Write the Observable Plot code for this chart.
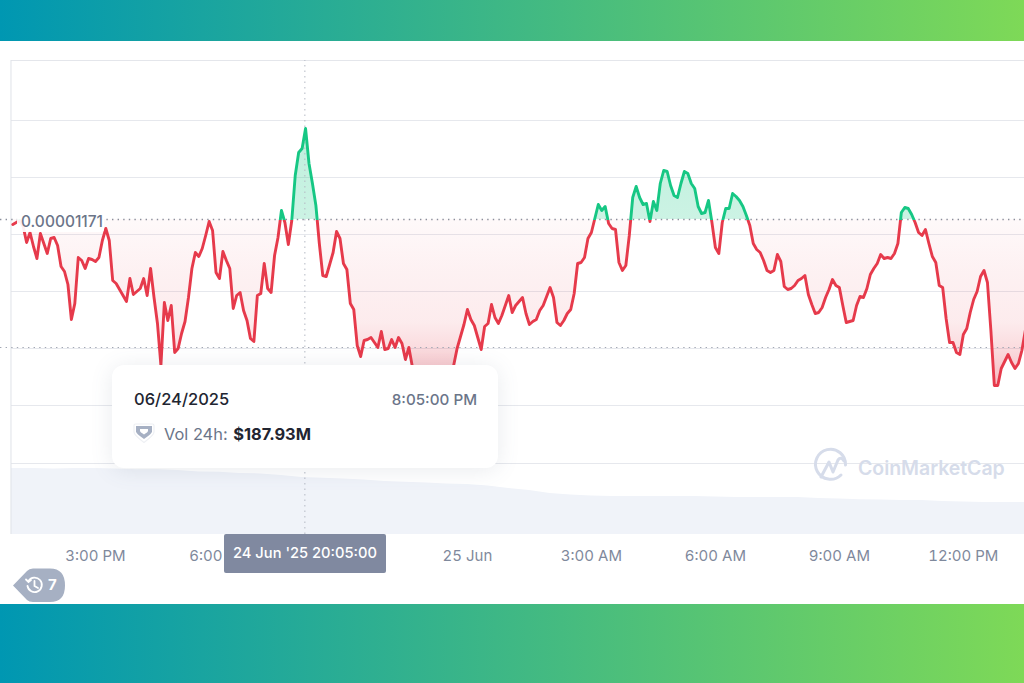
<!DOCTYPE html>
<html><head><meta charset="utf-8">
<script src="https://cdn.jsdelivr.net/npm/d3@7"></script>
<script src="https://cdn.jsdelivr.net/npm/@observablehq/plot@0.6"></script>
<style>
html,body{margin:0;padding:0;background:#fff;overflow:hidden;font-family:Inter,"Noto Sans",sans-serif}
#page{position:relative;width:1024px;height:683px;overflow:hidden;background:#fff}
.band{position:absolute;left:0;width:1024px;background:linear-gradient(90deg,#0097b2,#7ed957)}
#page>svg,#charts svg{position:absolute;left:0;top:0}
.abs{position:absolute}
#valueLabel{left:17px;top:210px;width:87px;height:22px;background:rgba(255,255,255,.92);color:#6b7589;font-size:15.5px;font-weight:500;line-height:23px;padding-left:4px;box-sizing:border-box;border-radius:3px;white-space:nowrap}
#tooltip{left:112px;top:365px;width:386px;height:103px;background:#fff;border-radius:12px;box-shadow:0 2px 22px rgba(88,102,126,.13)}
#tooltip div{position:absolute;white-space:nowrap}
#timeBox{left:224px;top:534px;width:162px;height:39px;background:#8089a0;border-radius:2px;color:#fff;font-size:14.7px;font-weight:500;line-height:39px;text-align:center;white-space:nowrap}
#wm{left:858px;top:456px;font-size:19.5px;font-weight:600;color:#d6dcea;letter-spacing:-.05px;white-space:nowrap;line-height:24px}
#badgeText{left:48px;top:575px;color:#fff;font-size:15px;font-weight:700;line-height:20px}
</style></head><body>
<div id="page">
<div class="band" style="top:0;height:41px"></div>
<div class="band" style="top:604px;height:79px"></div>
<div id="charts"></div>
<div class="abs" id="valueLabel">0.00001171</div>
<div class="abs" id="tooltip">
  <div style="left:22px;top:24px;font-size:16.5px;font-weight:500;color:#222531">06/24/2025</div>
  <div style="right:21px;top:25px;font-size:15.2px;font-weight:500;color:#6b7589">8:05:00 PM</div>
  <svg style="position:absolute;left:21px;top:58px" width="22" height="21" viewBox="0 0 22 21"><path d="M1 2.5Q1 1 2.5 1H19.5Q21 1 21 2.5V9Q21 12 11 19.5Q1 12 1 9Z" fill="#fff" stroke="#eef0f4" stroke-width="1.2"/><path d="M3 3H19V8.5Q19 10.5 11 16Q3 10.5 3 8.5Z" fill="#a6b0c3"/><path d="M7 6H15V8Q15 9 11 11.5Q7 9 7 8Z" fill="#fff"/></svg>
  <div style="left:52px;top:59px;font-size:16.4px;color:#6b7589">Vol 24h: <b style="color:#222531;font-weight:700;margin-left:1px">$187.93M</b></div>
</div>
<div class="abs" id="timeBox">24 Jun '25 20:05:00</div>
<svg width="1024" height="683" style="pointer-events:none">
  <path d="M13 585.5L27 571Q29 568.5 33 568.5H50Q65 568.5 65 585.5Q65 602 50 602H33Q29 602 27 600Z" fill="#a6b0c3"/>
  <g fill="none" stroke="#fff" stroke-width="1.8" stroke-linecap="round"><path d="M28.5 581A7.2 7.2 0 1 1 27.5 586"/><path d="M26 579.5L28.5 582L31 580"/><path d="M34.5 581V586L38 588"/></g>
  <g fill="none" stroke="#d6dcea" stroke-width="3" stroke-linecap="round" stroke-linejoin="round"><path d="M841 475A15 15 0 1 1 845.5 465"/><path d="M821 477L829 462L833 472L838 460Q841 456 844 461"/></g>
</svg>
<div class="abs" id="wm">CoinMarketCap</div>
<div class="abs" id="badgeText">7</div>
</div>
<script>
// Price in units of 0.00000001, one sample every 5 minutes from 24 Jun 2025 13:00
const priceValues = [
1166,1168,1170,1164,1148,1158,1144,1132,1157,1147,
1137,1152,1153,1145,1124,1119,1106,1071,1087,1133,
1130,1122,1132,1131,1129,1133,1150,1162,1150,1110,
1107,1101,1095,1089,1112,1096,1099,1102,1112,1095,
1122,1093,1067,1025,1088,1070,1085,1038,1042,1057,
1069,1093,1122,1138,1134,1142,1155,1169,1160,1118,
1112,1139,1130,1122,1082,1095,1098,1080,1070,1052,
1049,1095,1097,1127,1102,1098,1135,1153,1180,1168,
1146,1170,1215,1238,1242,1262,1227,1207,1185,1147,
1115,1114,1126,1138,1159,1152,1127,1121,1087,1081,
1045,1034,1050,1051,1053,1048,1043,1059,1041,1042,
1051,1043,1053,1047,1031,1043,1024,1018,1012,1006,
1010,1004,1009,1014,1008,1012,1018,1016,1025,1042,
1054,1066,1081,1071,1065,1053,1041,1064,1067,1086,
1073,1067,1075,1085,1095,1078,1085,1089,1093,1077,
1066,1069,1071,1080,1085,1094,1103,1093,1068,1065,
1070,1077,1081,1097,1127,1128,1133,1152,1158,1172,
1186,1180,1184,1167,1162,1161,1128,1120,1125,1155,
1193,1204,1193,1186,1187,1169,1189,1180,1207,1220,
1219,1205,1195,1193,1207,1219,1217,1207,1202,1184,
1177,1178,1190,1168,1143,1137,1168,1182,1182,1197,
1194,1190,1184,1175,1165,1147,1141,1138,1130,1120,
1118,1120,1136,1129,1104,1101,1102,1105,1110,1112,
1115,1096,1086,1077,1078,1083,1093,1101,1111,1105,
1103,1085,1068,1069,1070,1085,1094,1093,1102,1116,
1122,1127,1136,1132,1133,1132,1137,1147,1178,1183,
1182,1176,1168,1158,1155,1161,1147,1134,1128,1105,
1103,1072,1048,1048,1038,1036,1056,1062,1078,1091,
1099,1114,1120,1108,1060,1005,1005,1022,1029,1036,
1028,1022,1027,1040,1060];
// 24h volume in $M, one sample every 30 minutes from 24 Jun 2025 12:30
const volumeValues = [218,218,218,216,218,218,216,214,214,211,206,205,201,200,195,188,186,183,180,175,172,170,167,165,160,152,145,135,130,127,125,125,125,125,125,124,122,122,122,122,119,117,115,114,112,112,109,107,106,106,106];
const gridValues = [1270,1213,1156,1099,1042,985,927];
const topBorder = 1330;
const referencePrice = 1171;
const lowDotted = 1043;
const tickHours = [15,18,24,27,30,33,36];
const tickLabels = ["3:00 PM","6:00 PM","25 Jun","3:00 AM","6:00 AM","9:00 AM","12:00 PM"];
const hoverTime = new Date(Date.UTC(2025,5,24,20,4));

const MIN = 60000;
const t0 = Date.UTC(2025,5,24,13,0);
const price = priceValues.map((v,i)=>({t:new Date(t0+i*5*MIN),v}));
const volume = volumeValues.map((v,i)=>({t:new Date(t0+(i-1)*30*MIN),v}));
const tickDates = tickHours.map(h=>new Date(Date.UTC(2025,5,24,h)));
const xDomain = [new Date(t0-17.9*MIN), new Date(t0-17.9*MIN+1486.7*MIN)];
const red="#e63a4b", green="#16c784";

const volPlot = Plot.plot({
  width:1024,height:683,marginLeft:11,marginRight:0,marginTop:0,marginBottom:149,
  style:{background:"transparent"},
  x:{type:"utc",domain:xDomain,range:[0,1024],axis:null},
  y:{domain:[0,1762],range:[534,0],axis:null},
  marks:[
    Plot.areaY(volume,{x:"t",y:"v",fill:"#f0f3f9",clip:true})
  ]
});

function gradients(index,{y},values,dims){
  const g=d3.create("svg:defs");
  const base=y(referencePrice), top=y(1262), bot=y(1003);
  const lg=g.append("linearGradient").attr("id","lineGrad").attr("gradientUnits","userSpaceOnUse")
    .attr("x1",0).attr("x2",0).attr("y1",top).attr("y2",bot);
  const f=(base-top)/(bot-top);
  lg.append("stop").attr("offset",0).attr("stop-color",green);
  lg.append("stop").attr("offset",f).attr("stop-color",green);
  lg.append("stop").attr("offset",f).attr("stop-color",red);
  lg.append("stop").attr("offset",1).attr("stop-color",red);
  const ag=g.append("linearGradient").attr("id","areaGrad").attr("gradientUnits","userSpaceOnUse")
    .attr("x1",0).attr("x2",0).attr("y1",top).attr("y2",bot);
  [[0,green,.28],[f,green,.22],[f,red,.03],[.55,red,.07],[.75,red,.1],[.85,red,.18],[.93,red,.28],[1,red,.33]].forEach(([o,c,a])=>
    ag.append("stop").attr("offset",o).attr("stop-color",c).attr("stop-opacity",a));
  return g.node();
}

const mainPlot = Plot.plot({
  width:1024,height:683,marginLeft:0,marginRight:0,marginTop:0,marginBottom:149,
  style:{background:"transparent",fontFamily:"Inter,sans-serif"},
  x:{type:"utc",domain:xDomain,range:[0,1024]},
  y:{domain:[856,1390],range:[534,0],axis:null},
  marks:[
    gradients,
    Plot.ruleY(gridValues,{stroke:"#e6e8ed",strokeWidth:1,insetLeft:11}),
    Plot.ruleY([topBorder],{stroke:"#e4e6eb",strokeWidth:1,insetLeft:11}),
    Plot.ruleX([new Date(t0-17.9*MIN+15.2*MIN)],{y1:856,y2:topBorder,stroke:"#dfe2e8",strokeWidth:1}),
    Plot.areaY(price,{x:"t",y1:()=>referencePrice,y2:"v",fill:"url(#areaGrad)"}),
    Plot.ruleX([hoverTime],{y1:856,y2:topBorder,stroke:"#b4b9c4",strokeWidth:1,strokeDasharray:"1.5 4"}),
    Plot.ruleY([referencePrice],{stroke:"#8a8f9c",strokeWidth:1.4,strokeDasharray:"1.4 4.2"}),
    Plot.ruleY([lowDotted],{stroke:"#a2a7b3",strokeWidth:1.2,strokeDasharray:"1.4 4.2"}),
    Plot.lineY(price,{x:"t",y:"v",stroke:"url(#lineGrad)",strokeWidth:2.9,strokeLinejoin:"round",strokeLinecap:"round"}),
    Plot.axisX({ticks:tickDates,tickFormat:d=>tickLabels[tickDates.findIndex(e=>+e===+d)],tickSize:0,tickPadding:16,anchor:"bottom",label:null,fontSize:15,color:"#7f899c",fontWeight:400})
  ]
});
const c=document.getElementById("charts");
c.append(volPlot,mainPlot);
</script>
</body></html>
